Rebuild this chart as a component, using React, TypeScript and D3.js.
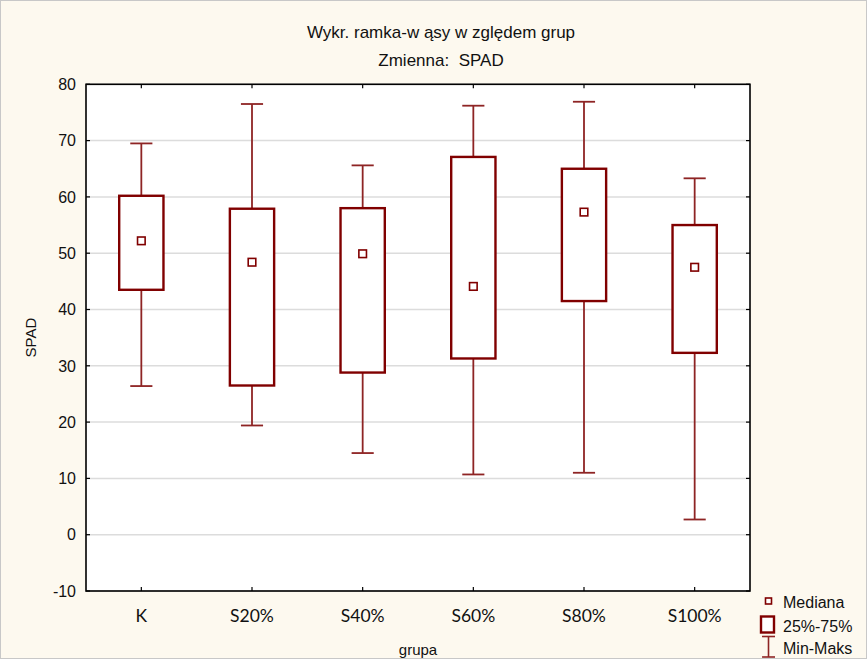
import React from "react";
import * as d3 from "d3";

// Groups and their five-number summaries for SPAD
const groups = ["K", "S20%", "S40%", "S60%", "S80%", "S100%"];
const minValues = [26.4, 19.4, 14.5, 10.7, 11.0, 2.7];
const q1Values = [43.5, 26.5, 28.8, 31.3, 41.5, 32.3];
const medianValues = [52.2, 48.4, 49.9, 44.1, 57.3, 47.5];
const q3Values = [60.2, 57.9, 58.0, 67.1, 65.0, 55.0];
const maxValues = [69.5, 76.5, 65.6, 76.2, 76.9, 63.3];
const yTicks = [-10, 0, 10, 20, 30, 40, 50, 60, 70, 80];

const W = 867;
const H = 659;
const plot = { left: 86, right: 750, top: 84.3, bottom: 591 };

const BOX = "#800000";
const WHISK = "#8e2424";
const SANS = "Arial, 'Liberation Sans', sans-serif";

export default function App() {
  const x = d3
    .scaleBand<string>()
    .domain(groups)
    .range([plot.left, plot.right])
    .paddingInner(0)
    .paddingOuter(0);
  const y = d3.scaleLinear().domain([-10, 80]).range([plot.bottom, plot.top]);
  const bw = x.bandwidth();
  const boxW = bw * 0.4;
  const capW = bw * 0.2;

  return (
    <svg
      width={W}
      height={H}
      style={{ position: "absolute", left: 0, top: 0 }}
      xmlns="http://www.w3.org/2000/svg"
    >
      <rect x={0} y={0} width={W} height={H} fill="#fdf9ef" />
      <rect x={0.5} y={0.5} width={W - 1} height={H - 1} fill="none" stroke="#c8c8c8" />

      {/* titles */}
      <text x={441} y={38} textAnchor="middle" fontFamily={SANS} fontSize={17} fill="#111">
        Wykr. ramka-w ąsy w zględem grup
      </text>
      <text x={441} y={66} textAnchor="middle" fontFamily={SANS} fontSize={17} fill="#111">
        Zmienna:{"\u00a0\u00a0"}SPAD
      </text>

      {/* plot area */}
      <rect
        x={plot.left}
        y={plot.top}
        width={plot.right - plot.left}
        height={plot.bottom - plot.top}
        fill="#ffffff"
      />

      {/* gridlines */}
      {yTicks.map((t) => (
        <line
          key={"g" + t}
          x1={plot.left}
          x2={plot.right}
          y1={y(t)}
          y2={y(t)}
          stroke="#dcdcdc"
          strokeWidth={1.5}
        />
      ))}

      {/* y ticks (inside, both sides) and labels */}
      {yTicks.map((t) => (
        <g key={"t" + t}>
          <line x1={plot.left} x2={plot.left + 4} y1={y(t)} y2={y(t)} stroke="#000" strokeWidth={1.2} />
          <line x1={plot.right - 4} x2={plot.right} y1={y(t)} y2={y(t)} stroke="#000" strokeWidth={1.2} />
          <text
            x={76}
            y={y(t)}
            dy="0.36em"
            textAnchor="end"
            fontFamily={SANS}
            fontSize={16}
            fill="#111"
          >
            {t}
          </text>
        </g>
      ))}

      {/* x ticks and labels */}
      {groups.map((g) => {
        const cx = (x(g) as number) + bw / 2;
        return (
          <g key={"x" + g}>
            <line x1={cx} x2={cx} y1={plot.bottom} y2={plot.bottom - 4} stroke="#000" strokeWidth={1.2} />
            <line x1={cx} x2={cx} y1={plot.top} y2={plot.top + 4} stroke="#000" strokeWidth={1.2} />
            <text
              x={cx}
              y={621.5}
              textAnchor="middle"
              fontFamily="Lato, 'Open Sans', sans-serif"
              fontSize={17.5}
              fill="#111"
            >
              {g}
            </text>
          </g>
        );
      })}

      {/* boxes */}
      {groups.map((g, i) => {
        const cx = (x(g) as number) + bw / 2;
        return (
          <g key={"b" + g}>
            <line x1={cx} x2={cx} y1={y(maxValues[i])} y2={y(q3Values[i])} stroke={WHISK} strokeWidth={1.8} />
            <line x1={cx} x2={cx} y1={y(q1Values[i])} y2={y(minValues[i])} stroke={WHISK} strokeWidth={1.8} />
            <line
              x1={cx - capW / 2}
              x2={cx + capW / 2}
              y1={y(maxValues[i])}
              y2={y(maxValues[i])}
              stroke={WHISK}
              strokeWidth={1.8}
            />
            <line
              x1={cx - capW / 2}
              x2={cx + capW / 2}
              y1={y(minValues[i])}
              y2={y(minValues[i])}
              stroke={WHISK}
              strokeWidth={1.8}
            />
            <rect
              x={cx - boxW / 2}
              y={y(q3Values[i])}
              width={boxW}
              height={y(q1Values[i]) - y(q3Values[i])}
              fill="#ffffff"
              stroke={BOX}
              strokeWidth={2.4}
            />
            <rect
              x={cx - 3.8}
              y={y(medianValues[i]) - 3.8}
              width={7.6}
              height={7.6}
              fill="#ffffff"
              stroke={BOX}
              strokeWidth={1.6}
            />
          </g>
        );
      })}

      {/* plot frame */}
      <rect
        x={plot.left}
        y={plot.top}
        width={plot.right - plot.left}
        height={plot.bottom - plot.top}
        fill="none"
        stroke="#000"
        strokeWidth={1.6}
      />

      {/* axis titles */}
      <text x={418} y={655} textAnchor="middle" fontFamily={SANS} fontSize={15} fill="#111">
        grupa
      </text>
      <text
        transform={`translate(36,${(plot.top + plot.bottom) / 2}) rotate(-90)`}
        textAnchor="middle"
        fontFamily={SANS}
        fontSize={15}
        fill="#111"
      >
        SPAD
      </text>

      {/* legend */}
      <g>
        <rect x={765.5} y={598} width={6} height={6} fill="#fff" stroke={BOX} strokeWidth={1.6} />
        <text x={783} y={607.5} fontFamily={SANS} fontSize={16} fill="#111">
          Mediana
        </text>
        <rect x={761} y={616.5} width={13} height={16} fill="#fff" stroke={BOX} strokeWidth={2.4} />
        <text x={783} y={631.5} fontFamily={SANS} fontSize={16} fill="#111">
          25%-75%
        </text>
        <line x1={762} x2={775} y1={636.5} y2={636.5} stroke={WHISK} strokeWidth={1.6} />
        <line x1={768.5} x2={768.5} y1={636.5} y2={657} stroke={WHISK} strokeWidth={1.6} />
        <line x1={762} x2={775} y1={657} y2={657} stroke={WHISK} strokeWidth={1.6} />
        <text x={783} y={654} fontFamily={SANS} fontSize={16} fill="#111">
          Min-Maks
        </text>
      </g>
    </svg>
  );
}
